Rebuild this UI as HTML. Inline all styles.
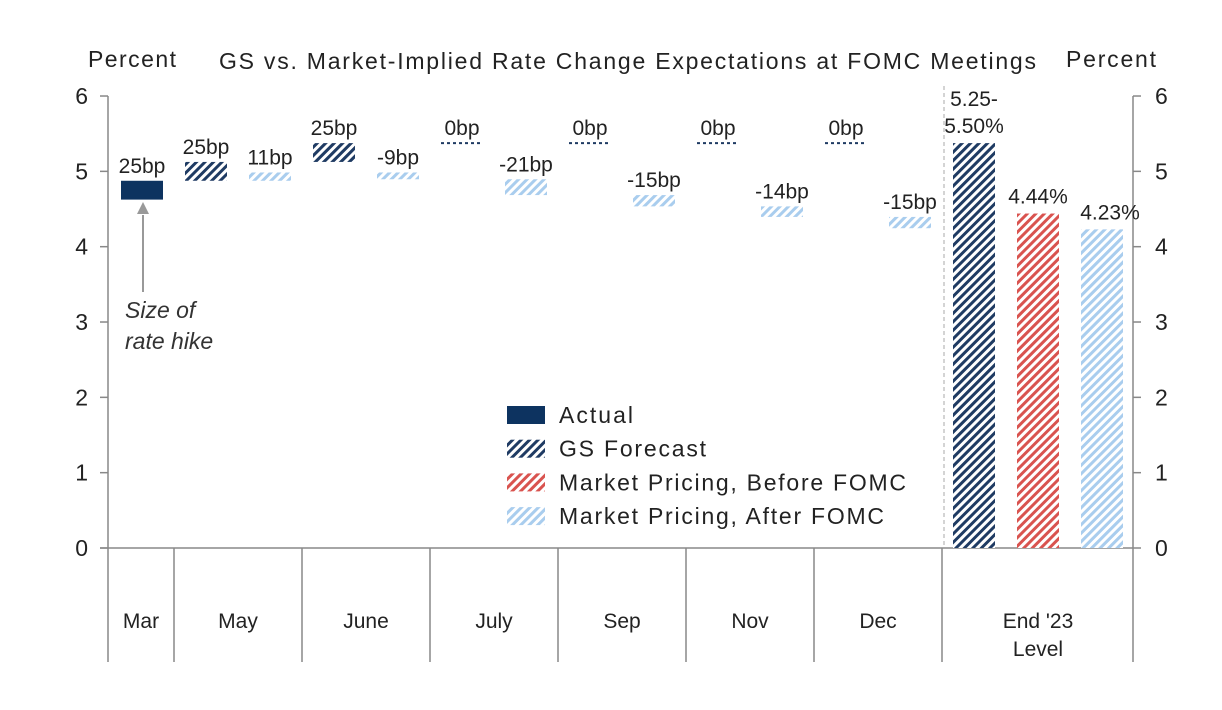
<!DOCTYPE html>
<html><head><meta charset="utf-8"><style>
body{margin:0;background:#fff;width:1222px;height:710px;overflow:hidden}
svg{font-family:"Liberation Sans",Arial,sans-serif;display:block}
</style></head><body>
<svg id="c" width="1222" height="710">
<defs>
<pattern id="pGS" patternUnits="userSpaceOnUse" width="6" height="6" patternTransform="rotate(45)"><rect width="6" height="6" fill="#fff"/><rect width="3" height="6" fill="#1f3b63"/></pattern>
<pattern id="pRed" patternUnits="userSpaceOnUse" width="6" height="6" patternTransform="rotate(45)"><rect width="6" height="6" fill="#fff"/><rect width="3" height="6" fill="#d9534f"/></pattern>
<pattern id="pLt" patternUnits="userSpaceOnUse" width="6" height="6" patternTransform="rotate(45)"><rect width="6" height="6" fill="#fff"/><rect width="3" height="6" fill="#a9cdee"/></pattern>
</defs>
</svg>
<script>
const months=["Mar","May","June","July","Sep","Nov","Dec"];
const gsStart=[4.625,4.875,5.125,5.375,5.375,5.375,5.375];
const gsEnd=[4.875,5.125,5.375,5.375,5.375,5.375,5.375];
const gsLabels=["25bp","25bp","25bp","0bp","0bp","0bp","0bp"];
const mktStart=[null,4.875,4.985,4.895,4.685,4.535,4.395];
const mktEnd=[null,4.985,4.895,4.685,4.535,4.395,4.245];
const mktLabels=[null,"11bp","-9bp","-21bp","-15bp","-14bp","-15bp"];
const endValues=[5.375,4.44,4.23];
const endLabels=[["5.25-","5.50%"],["4.44%"],["4.23%"]];
const yTicks=[0,1,2,3,4,5,6];
const svg=document.getElementById('c');const NS="http://www.w3.org/2000/svg";
function y(v){return 548-v*75.33;}
function add(tag,at,txt){const e=document.createElementNS(NS,tag);for(const k in at)e.setAttribute(k,at[k]);if(txt!=null)e.textContent=txt;svg.appendChild(e);return e;}
let e;
e=add('line',{x1:108,y1:96,x2:108,y2:662,stroke:'#888','stroke-width':1.5});
e=add('line',{x1:1133,y1:96,x2:1133,y2:662,stroke:'#888','stroke-width':1.5});
e=add('line',{x1:100,y1:548,x2:1133,y2:548,stroke:'#888','stroke-width':1.5});
e=add('line',{x1:944,y1:86,x2:944,y2:548,stroke:'#aaa','stroke-width':1,'stroke-dasharray':'4,3'});
yTicks.forEach(t=>{
 add('line',{x1:100,y1:y(t),x2:108,y2:y(t),stroke:'#888','stroke-width':1.5});
 add('line',{x1:1133,y1:y(t),x2:1141,y2:y(t),stroke:'#888','stroke-width':1.5});
 e=add('text',{x:88,y:y(t)+8,'font-size':23,'text-anchor':'end',fill:'#222'},t);
 e=add('text',{x:1155,y:y(t)+8,'font-size':23,fill:'#222'},t);
});
const divs=[174,302,430,558,686,814,942];
divs.forEach(d=>add('line',{x1:d,y1:548,x2:d,y2:662,stroke:'#888','stroke-width':1.5}));
const centers=[141,238,366,494,622,750,878];
months.forEach((m,i)=>{e=add('text',{x:centers[i],y:628,'font-size':21,'text-anchor':'middle',fill:'#222'},m);});
e=add('text',{x:1038,y:628,'font-size':21,'text-anchor':'middle',fill:'#222'},"End '23");
add('text',{x:1038,y:656,'font-size':21,'text-anchor':'middle',fill:'#222'},"Level");
const bw=42;
months.forEach((m,i)=>{
 const gx=i==0?121:185+(i-1)*128;
 if(gsStart[i]===gsEnd[i]){
  e=add('line',{x1:gx,y1:y(gsEnd[i]),x2:gx+bw,y2:y(gsEnd[i]),stroke:'#1f3b63','stroke-width':2,'stroke-dasharray':'3,3'});
 } else {
  const top=Math.max(gsStart[i],gsEnd[i]),bot=Math.min(gsStart[i],gsEnd[i]);
  e=add('rect',{x:gx,y:y(top),width:bw,height:y(bot)-y(top),fill:i==0?'#0d3360':'url(#pGS)'});
 }
 
 const top=Math.max(gsStart[i],gsEnd[i]);
 e=add('text',{x:gx+bw/2,y:y(top)-8,'font-size':21,'text-anchor':'middle',fill:'#222'},gsLabels[i]);
 if(mktStart[i]!=null){
  const mx=gx+64;const t=Math.max(mktStart[i],mktEnd[i]),b=Math.min(mktStart[i],mktEnd[i]);
  e=add('rect',{x:mx,y:y(t),width:bw,height:y(b)-y(t),fill:'url(#pLt)'});
  e=add('text',{x:mx+bw/2,y:y(t)-8,'font-size':21,'text-anchor':'middle',fill:'#222'},mktLabels[i]);
 }
});
const endX=[953,1017,1081];const endFill=['url(#pGS)','url(#pRed)','url(#pLt)'];
endValues.forEach((v,i)=>{
 e=add('rect',{x:endX[i],y:y(v),width:bw,height:548-y(v),fill:endFill[i]});
 const ls=endLabels[i];
 ls.forEach((l,j)=>{e=add('text',{x:endX[i]+bw/2+(i==2?8:0),y:y(v)-10-(ls.length-1-j)*27,'font-size':21,'text-anchor':'middle',fill:'#222'},l);});
});
e=add('line',{x1:143,y1:215,x2:143,y2:292,stroke:'#999','stroke-width':2});
add('polygon',{points:'137,214 149,214 143,202',fill:'#999'});
e=add('text',{x:125,y:318,'font-size':23,'font-style':'italic',fill:'#333'},'Size of');
add('text',{x:125,y:349,'font-size':23,'font-style':'italic',fill:'#333'},'rate hike');
e=add('text',{x:88,y:67,'font-size':23,fill:'#222',textLength:88},'Percent');
e=add('text',{x:1066,y:67,'font-size':23,fill:'#222',textLength:90},'Percent');
e=add('text',{x:219,y:69,'font-size':23,fill:'#222',textLength:817},'GS vs. Market-Implied Rate Change Expectations at FOMC Meetings');
const lg=[['Actual','#0d3360',74],['GS Forecast','url(#pGS)',147],['Market Pricing, Before FOMC','url(#pRed)',347],['Market Pricing, After FOMC','url(#pLt)',325]];
lg.forEach((l,i)=>{const yy=406+i*33.7;
 e=add('rect',{x:507,y:yy,width:38,height:18,fill:l[1]});
 e=add('text',{x:559,y:yy+17,'font-size':23,fill:'#222',textLength:l[2]},l[0]);
});
</script>
</body></html>
